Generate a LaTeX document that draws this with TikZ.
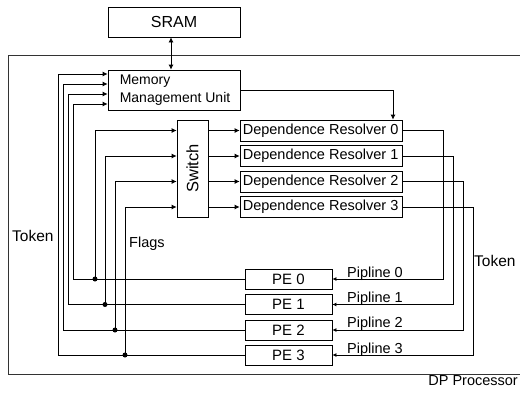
\documentclass[tikz,border=0pt]{standalone}
\usepackage{fontspec}
\setmainfont{Liberation Sans}
\usetikzlibrary{arrows.meta}
\tikzset{
  box/.style={draw, line width=0.8pt, inner sep=0pt, font=\fontsize{14.5}{17}\selectfont},
  wire/.style={line width=0.8pt},
  arr/.style={wire, -{Latex[length=5pt,width=5pt]}},
  arrs/.style={wire, -{Latex[length=4pt,width=4pt]}},
  lbl/.style={inner sep=0pt, font=\fontsize{14.5}{17}\selectfont},
  dot/.style={circle, fill, inner sep=0pt, minimum size=5pt},
}
\begin{document}
\begin{tikzpicture}[x=1pt,y=-1pt]
\useasboundingbox (0,0) rectangle (520,394);
\fill[white] (0,0) rectangle (520,394);

% processor enclosure (open to the right)
\draw[line width=0.8pt, black!80] (520,55) -- (8,55) -- (8,374) -- (520,374);
\node[lbl, anchor=base east] (dp) at (518,385.5) {DP Processor};

% memory side
\node[box, minimum width=132pt, minimum height=30pt, font=\fontsize{16}{19}\selectfont] (sram) at (174,22) {SRAM};
\node[box, minimum width=132pt, minimum height=40pt] (mmu) at (174,90) {};
\node[lbl, anchor=west, align=left, font=\fontsize{14}{18}\selectfont] (mmul) at ([xshift=12pt]mmu.west) {Memory\\Management Unit};

% switch
\node[box, minimum width=31pt, minimum height=97pt] (sw) at (192.5,168.5) {};
\node[rotate=90, inner sep=0pt, font=\fontsize{16.5}{19}\selectfont] (swl) at (sw.center) {Switch};

% dependence resolvers
\foreach \i/\y in {0/130.5,1/156,2/181.5,3/207}{
  \node[box, minimum width=162pt, minimum height=21pt] (dr\i) at (321,\y) {};
  \node[lbl, anchor=west] (drl\i) at ([xshift=3pt]dr\i.west) {Dependence Resolver \i};
}

% processing elements
\foreach \i/\y in {0/279,1/304.5,2/330,3/355}
  \node[box, minimum width=87pt, minimum height=20pt, font=\fontsize{15}{18}\selectfont] (pe\i) at (288.5,\y) {PE \i};

% lane positions
\coordinate (t0) at (73,104);
\coordinate (t1) at (68,94);
\coordinate (t2) at (63,84);
\coordinate (t3) at (58,74);
\coordinate (f0) at (95,0);
\coordinate (f1) at (105,0);
\coordinate (f2) at (115,0);
\coordinate (f3) at (125,0);
\coordinate (r0) at (443,0);
\coordinate (r1) at (453,0);
\coordinate (r2) at (463,0);
\coordinate (r3) at (473,0);
\coordinate (m) at (393,0);
\coordinate (s) at (171,0);

% SRAM <-> MMU
\draw[wire, {Latex[length=5pt,width=5pt]}-{Latex[length=5pt,width=5pt]}] (s |- sram.south) -- (s |- mmu.north);

% MMU -> resolver 0
\draw[arr] (mmu.east) -| (m |- dr0.north);

\foreach \i in {0,1,2,3}{
  % token feedback from PE to MMU
  \draw[arr] (pe\i.west) -| (t\i) -- (mmu.west |- t\i);
  % flags from PE into the switch
  \draw[arr] (f\i |- pe\i.west) |- (sw.west |- dr\i.west);
  \node[dot] (d\i) at (f\i |- pe\i.west) {};
  % switch -> resolver
  \draw[arr] (sw.east |- dr\i.west) -- (dr\i.west);
  % resolver -> PE pipeline
  \draw[arrs] (dr\i.east) -| (r\i |- pe\i.east) -- (pe\i.east);
}

% labels
\node[lbl, anchor=base west, font=\fontsize{15.5}{18}\selectfont] (tokl) at (12,241) {Token};
\node[lbl, anchor=base west] (flags) at (129,247) {Flags};
\node[lbl, anchor=base west, font=\fontsize{15.5}{18}\selectfont] (tokr) at (474,266) {Token};
\node[lbl, anchor=base west] (pl0) at (347,277) {Pipline 0};
\node[lbl, anchor=base west] (pl1) at (347,302.5) {Pipline 1};
\node[lbl, anchor=base west] (pl2) at (347,327.5) {Pipline 2};
\node[lbl, anchor=base west] (pl3) at (347,353) {Pipline 3};
\end{tikzpicture}
\end{document}
